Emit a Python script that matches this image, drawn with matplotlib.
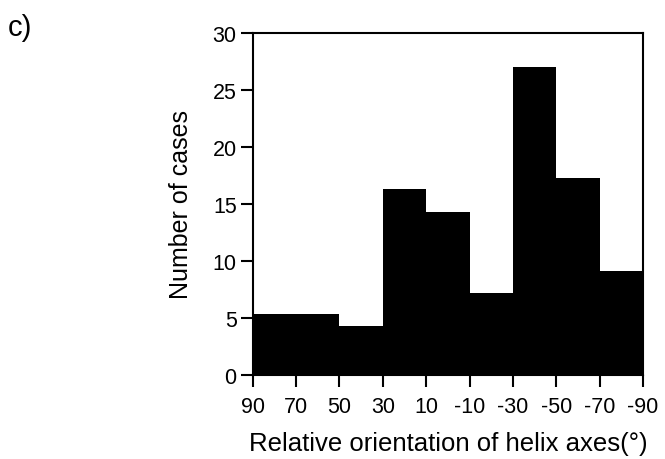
import matplotlib
matplotlib.use("Agg")
import matplotlib.pyplot as plt

bin_edges = [90, 70, 50, 30, 10, -10, -30, -50, -70, -90]
counts = [5.3, 5.3, 4.3, 16.3, 14.3, 7.2, 27.0, 17.3, 9.1]
xtick_labels = ["90", "70", "50", "30", "10", "-10", "-30", "-50", "-70", "-90"]
yticks = [0, 5, 10, 15, 20, 25, 30]

plt.rcParams['font.family'] = ['Liberation Sans', 'DejaVu Sans']

fig = plt.figure(figsize=(6.65, 4.60), dpi=100)
ax = fig.add_axes([0.380, 0.183, 0.587, 0.743])

lefts = bin_edges[:-1]
widths = [bin_edges[i + 1] - bin_edges[i] for i in range(len(lefts))]
ax.bar(lefts, counts, width=widths, align='edge', color='black',
       edgecolor='none', linewidth=0)

ax.set_xlim(90, -90)
ax.set_ylim(0, 30)
ax.set_xticks(bin_edges)
ax.set_xticklabels(xtick_labels)
ax.set_yticks(yticks)

for s in ax.spines.values():
    s.set_linewidth(1.5)
ax.tick_params(axis='both', direction='out', length=8.5, width=1.5,
               labelsize=15.5)
ax.tick_params(axis='x', pad=7)
ax.tick_params(axis='y', pad=3)

ax.set_ylabel("Number of cases", fontsize=18, labelpad=14)
ax.set_xlabel("Relative orientation of helix axes(°)", fontsize=18.5, labelpad=10)

fig.text(0.012, 0.94, "c)", fontsize=21, ha='left', va='center')

fig.savefig("out.png", dpi=100)
